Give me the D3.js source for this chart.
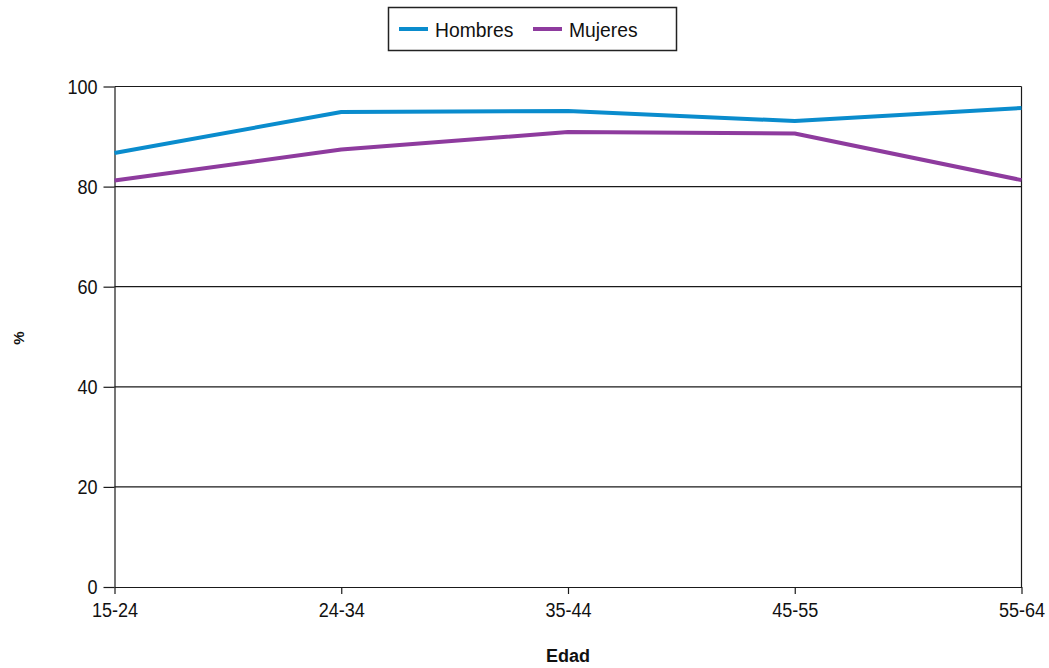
<!DOCTYPE html>
<html>
<head>
<meta charset="utf-8">
<script src="https://cdn.jsdelivr.net/npm/d3@7"></script>
<style>
  html, body { margin: 0; padding: 0; background: #fff; }
  svg { display: block; }
  text { font-family: "Liberation Sans", Arial, sans-serif; fill: #111; }
</style>
</head>
<body>
<svg id="chart" width="1049" height="668"></svg>
<script>
// Age groups and participation rate (%) by sex
const categories = ["15-24", "24-34", "35-44", "45-55", "55-64"];
const hombres = [86.7, 94.9, 95.1, 93.1, 95.7];
const mujeres = [81.2, 87.4, 90.9, 90.6, 81.3];
const yTicks = [0, 20, 40, 60, 80, 100];
const seriesNames = ["Hombres", "Mujeres"];
const seriesColors = ["#0a8ccd", "#8e3b9e"];

const svg = d3.select("#chart");
const margin = { left: 114.5, right: 1049 - 1021.5, top: 86.5, bottom: 668 - 587 };
const W = 1049, H = 668;

const x = d3.scalePoint().domain(categories).range([margin.left, W - margin.right]);
const y = d3.scaleLinear().domain([0, 100]).range([H - margin.bottom, margin.top]);

const squeeze = 0.86; // narrow glyph look
const tickFont = 21;

// horizontal grid lines
svg.append("g")
  .selectAll("line")
  .data(yTicks.filter(d => d > 0))
  .join("line")
  .attr("x1", margin.left).attr("x2", W - margin.right)
  .attr("y1", d => y(d)).attr("y2", d => y(d))
  .attr("stroke", "#1a1a1a").attr("stroke-width", 1.2);

// right frame edge
svg.append("line")
  .attr("x1", W - margin.right).attr("x2", W - margin.right)
  .attr("y1", y(100)).attr("y2", y(0))
  .attr("stroke", "#1a1a1a").attr("stroke-width", 1.2);

// y axis
const yAxis = svg.append("g")
  .attr("transform", `translate(${margin.left},0)`)
  .call(d3.axisLeft(y).tickValues(yTicks).tickSize(11).tickPadding(6).tickSizeOuter(0));
yAxis.select(".domain").attr("stroke", "#1a1a1a").attr("stroke-width", 1.2);
yAxis.selectAll(".tick line").attr("stroke", "#1a1a1a").attr("stroke-width", 1.2);
yAxis.selectAll(".tick text")
  .attr("font-size", tickFont)
  .attr("font-family", "Liberation Sans, Arial, sans-serif")
  .attr("fill", "#111")
  .attr("transform", `scale(${squeeze},1)`)
  .attr("x", -17 / squeeze);

// x axis
const xAxis = svg.append("g")
  .attr("transform", `translate(0,${y(0)})`)
  .call(d3.axisBottom(x).tickSize(7).tickPadding(8).tickSizeOuter(0));
xAxis.select(".domain").attr("stroke", "#1a1a1a").attr("stroke-width", 1.2);
xAxis.selectAll(".tick line").attr("stroke", "#1a1a1a").attr("stroke-width", 1.2);
xAxis.selectAll(".tick text")
  .attr("font-size", tickFont)
  .attr("font-family", "Liberation Sans, Arial, sans-serif")
  .attr("fill", "#111")
  .attr("transform", `scale(${squeeze},1)`);

// series lines
const line = d3.line().x((d, i) => x(categories[i])).y(d => y(d));
[hombres, mujeres].forEach((vals, k) => {
  svg.append("path")
    .datum(vals)
    .attr("d", line)
    .attr("fill", "none")
    .attr("stroke", seriesColors[k])
    .attr("stroke-width", 4)
    .attr("stroke-linejoin", "round");
});

// axis titles
svg.append("text")
  .attr("transform", "translate(24,338) rotate(-90)")
  .attr("text-anchor", "middle")
  .attr("font-size", 15).attr("font-weight", "bold")
  .text("%");
svg.append("text")
  .attr("x", 568).attr("y", 662)
  .attr("text-anchor", "middle")
  .attr("font-size", 18).attr("font-weight", "bold")
  .text("Edad");

// legend
const legend = svg.append("g");
legend.append("rect")
  .attr("x", 388.5).attr("y", 7.5).attr("width", 288).attr("height", 43)
  .attr("fill", "#fff").attr("stroke", "#222").attr("stroke-width", 1.5);
const legendX = [399, 533];
seriesNames.forEach((name, k) => {
  legend.append("line")
    .attr("x1", legendX[k]).attr("x2", legendX[k] + 29)
    .attr("y1", 29).attr("y2", 29)
    .attr("stroke", seriesColors[k]).attr("stroke-width", 4);
  legend.append("text")
    .attr("transform", `translate(${legendX[k] + 36},36.5) scale(0.92,1)`)
    .attr("font-size", 21)
    .text(name);
});
</script>
</body>
</html>
